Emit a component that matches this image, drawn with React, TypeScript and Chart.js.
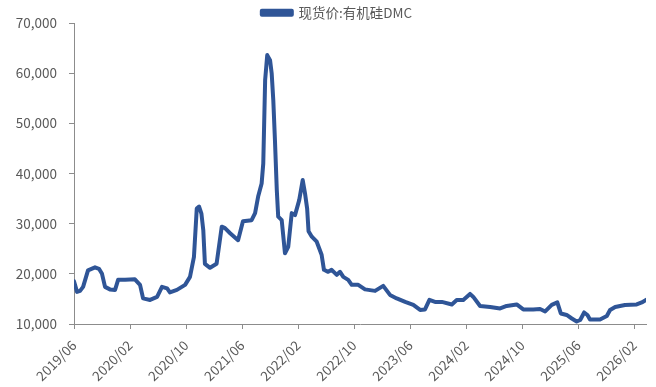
import React, { useEffect, useRef } from "react";
import { Chart, registerables } from "chart.js";

Chart.register(...registerables);

// Spot price series: 有机硅DMC (yuan/ton)
const dates: string[] = [
  "2019-06-01", "2019-06-14", "2019-06-27", "2019-07-10", "2019-08-01", "2019-09-01",
  "2019-09-18", "2019-10-01", "2019-10-14", "2019-11-05", "2019-11-27", "2019-12-10",
  "2020-01-10", "2020-02-22", "2020-03-14", "2020-03-27", "2020-04-27", "2020-05-27",
  "2020-06-18", "2020-07-10", "2020-07-22", "2020-08-22", "2020-09-27", "2020-10-18",
  "2020-11-05", "2020-11-17", "2020-11-27", "2020-12-07", "2020-12-15", "2020-12-22",
  "2021-01-14", "2021-02-12", "2021-03-04", "2021-03-18", "2021-04-10", "2021-05-14",
  "2021-06-05", "2021-07-12", "2021-07-27", "2021-08-10", "2021-08-25", "2021-09-02",
  "2021-09-10", "2021-09-19", "2021-10-01", "2021-10-08", "2021-10-15", "2021-10-22",
  "2021-10-30", "2021-11-06", "2021-11-21", "2021-12-05", "2021-12-19", "2022-01-04",
  "2022-01-18", "2022-02-06", "2022-02-21", "2022-03-01", "2022-03-10", "2022-03-16",
  "2022-03-30", "2022-04-21", "2022-05-12", "2022-05-22", "2022-06-10", "2022-06-25",
  "2022-07-17", "2022-08-01", "2022-08-15", "2022-09-06", "2022-09-21", "2022-10-19",
  "2022-11-18", "2023-01-01", "2023-02-06", "2023-03-05", "2023-04-04", "2023-05-10",
  "2023-06-15", "2023-07-14", "2023-08-05", "2023-08-24", "2023-09-18", "2023-10-17",
  "2023-11-30", "2023-12-21", "2024-01-19", "2024-02-18", "2024-03-02", "2024-04-01",
  "2024-05-14", "2024-06-27", "2024-07-25", "2024-09-08", "2024-10-06", "2024-11-19",
  "2024-12-18", "2025-01-10", "2025-02-08", "2025-03-02", "2025-03-17", "2025-04-12",
  "2025-05-04", "2025-05-25", "2025-06-10", "2025-06-27", "2025-07-11", "2025-07-22",
  "2025-09-05", "2025-10-04", "2025-10-18", "2025-11-10", "2025-12-22", "2026-02-12",
  "2026-03-04", "2026-03-22",
];

const prices: number[] = [
  18500, 16400, 16600, 17400, 20700, 21300,
  21000, 20000, 17400, 16900, 16800, 18800,
  18800, 18900, 17800, 15100, 14800, 15400,
  17400, 17100, 16300, 16800, 17800, 19400,
  23400, 33000, 33400, 32000, 28700, 22000,
  21200, 22000, 29400, 29100, 28100, 26700,
  30500, 30700, 32100, 35400, 38000, 42000,
  58600, 63600, 62600, 60000, 54600, 46700,
  36700, 31400, 30700, 24100, 25400, 32100,
  31700, 34700, 38700, 36000, 33000, 28500,
  27400, 26400, 23800, 20800, 20400, 20800,
  19800, 20400, 19400, 18800, 17800, 17800,
  16900, 16600, 17600, 15800, 15100, 14400,
  13800, 12800, 12900, 14800, 14400, 14400,
  13900, 14800, 14800, 16000, 15400, 13600,
  13400, 13100, 13600, 13900, 12900, 12900,
  13000, 12500, 13800, 14300, 12100, 11800,
  11100, 10500, 10800, 12300, 11800, 10900,
  10900, 11600, 12800, 13400, 13800, 13900,
  14300, 14800,
];

const seriesLabel = "现货价:有机硅DMC";
const yTicks: number[] = [10000, 20000, 30000, 40000, 50000, 60000, 70000];
const xTickMonths: number[] = [0, 8, 16, 24, 32, 40, 48, 56, 64, 72, 80];

const START_YEAR = 2019;
const START_MONTH = 6;

// months elapsed since 2019/06/01
function monthOffset(d: string): number {
  const [y, m, day] = d.split("-").map(Number);
  return (y - START_YEAR) * 12 + (m - START_MONTH) + (day - 1) / 30;
}

function monthLabel(offset: number): string {
  const total = START_YEAR * 12 + (START_MONTH - 1) + Math.round(offset);
  const y = Math.floor(total / 12);
  const m = (total % 12) + 1;
  return `${y}/${String(m).padStart(2, "0")}`;
}

const LINE_COLOR = "#2f5597";
const AXIS_COLOR = "#8c8c8c";
const TEXT_COLOR = "#595959";
const FONT = "'Noto Sans CJK SC', 'Noto Sans', sans-serif";
const FONT_SIZE = 13.5;

// nudges the legend a little to the right of the canvas centre
const legendOffset = {
  id: "legendOffset",
  afterLayout(chart: any) {
    if (chart.legend) {
      chart.legend.left += 28;
      chart.legend.right += 0;
    }
  },
};

export default function App() {
  const canvasRef = useRef<HTMLCanvasElement | null>(null);

  useEffect(() => {
    if (!canvasRef.current) return;
    const points = dates.map((d, i) => ({ x: monthOffset(d), y: prices[i] }));
    const xMax = points[points.length - 1].x;

    const chart = new Chart(canvasRef.current, {
      type: "line",
      data: {
        datasets: [
          {
            label: seriesLabel,
            data: points,
            borderColor: LINE_COLOR,
            backgroundColor: LINE_COLOR,
            borderWidth: 4,
            pointRadius: 0,
            tension: 0,
            borderJoinStyle: "round",
            borderCapStyle: "round",
          },
        ],
      },
      plugins: [legendOffset],
      options: {
        animation: false,
        responsive: true,
        maintainAspectRatio: false,
        layout: { padding: { left: 0, right: 10, top: 3, bottom: 0 } },
        plugins: {
          legend: {
            display: true,
            position: "top",
            maxHeight: 20,
            labels: {
              boxWidth: 30,
              boxHeight: 4,
              padding: 3,
              color: TEXT_COLOR,
              font: { family: FONT, size: FONT_SIZE },
            },
          },
          tooltip: { enabled: false },
        },
        scales: {
          x: {
            type: "linear",
            min: 0,
            max: xMax,
            afterBuildTicks: (scale: any) => {
              scale.ticks = xTickMonths.map((v) => ({ value: v }));
            },
            afterFit: (scale: any) => {
              scale.height = 63;
            },
            border: { display: true, color: AXIS_COLOR, width: 1 },
            grid: {
              display: true,
              drawOnChartArea: false,
              drawTicks: true,
              tickLength: 5,
              color: AXIS_COLOR,
            },
            ticks: {
              autoSkip: false,
              maxRotation: 45,
              minRotation: 45,
              padding: 8,
              color: TEXT_COLOR,
              font: { family: FONT, size: FONT_SIZE },
              callback: (v: any) => monthLabel(Number(v)),
            },
          },
          y: {
            type: "linear",
            min: 10000,
            max: 70000,
            afterBuildTicks: (scale: any) => {
              scale.ticks = yTicks.map((v) => ({ value: v }));
            },
            afterFit: (scale: any) => {
              scale.width = 74;
            },
            border: { display: true, color: AXIS_COLOR, width: 1 },
            grid: {
              display: true,
              drawOnChartArea: false,
              drawTicks: true,
              tickLength: 5,
              color: AXIS_COLOR,
            },
            ticks: {
              padding: 12,
              color: TEXT_COLOR,
              font: { family: FONT, size: FONT_SIZE },
              callback: (v: any) => Number(v).toLocaleString("en-US"),
            },
          },
        },
      },
    });
    return () => chart.destroy();
  }, []);

  return (
    <div style={{ position: "fixed", left: 0, top: 0, width: 656, height: 387, background: "#fff" }}>
      <canvas ref={canvasRef} />
    </div>
  );
}
